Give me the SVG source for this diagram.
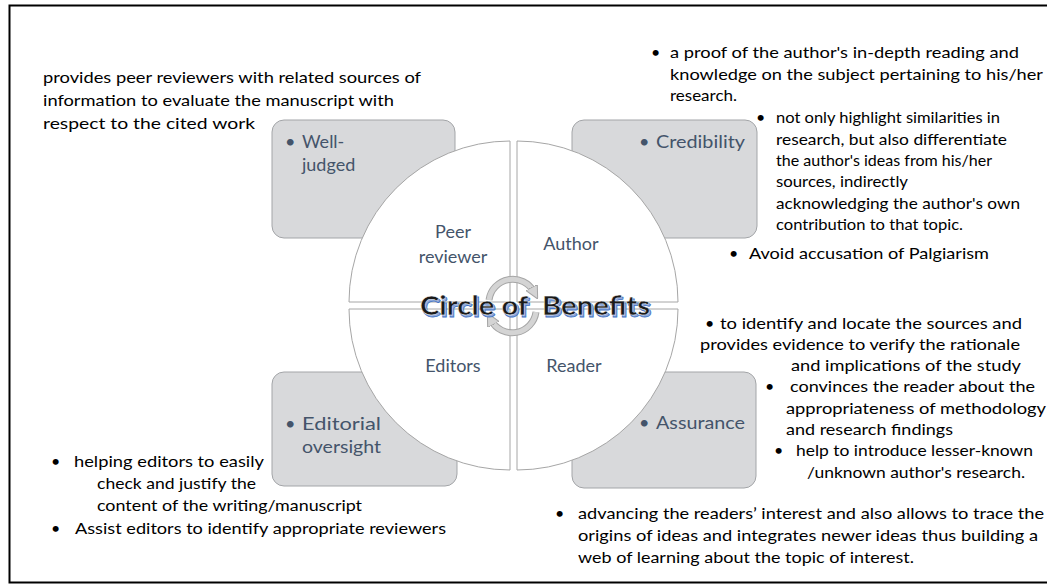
<svg xmlns="http://www.w3.org/2000/svg" width="1047" height="588" viewBox="0 0 1047 588">
<style>
.box{fill:#d8d9db;stroke:#a3a5a8;stroke-width:1}
.quad{fill:#ffffff;stroke:#a6a6a6;stroke-width:1}
.lbl{font-family:Lato,"Liberation Sans",sans-serif;font-size:18px;fill:#44546a}
.ann{font-family:Lato,"Liberation Sans",sans-serif;font-size:16px;fill:#000000}
.title{font-family:Lato,"Liberation Sans",sans-serif;font-size:27px;font-weight:bold}
</style>
<defs>
<marker id="ah" viewBox="0 0 10 10" refX="4" refY="5" markerWidth="2.6" markerHeight="2.6" orient="auto">
<path d="M0,0 L10,5 L0,10 Z" fill="#d4d4d4" stroke="#a6a6a6" stroke-width="0.8"/>
</marker>
</defs>
<rect x="0" y="0" width="1047" height="588" fill="#ffffff"/>
<rect x="9.5" y="5.5" width="1050" height="577" fill="none" stroke="#000" stroke-width="2"/>

<g id="box-welljudged">
<rect class="box" x="272" y="120" width="183" height="118" rx="12"/>
</g>
<g id="box-credibility">
<rect class="box" x="572" y="120" width="185" height="118" rx="12"/>
</g>
<g id="box-editorial">
<rect class="box" x="272" y="372" width="185" height="114" rx="12"/>
</g>
<g id="box-assurance">
<rect class="box" x="572" y="372" width="184" height="116" rx="12"/>
</g>

<g id="quad-peer">
<path class="quad" d="M510,302 L349,302 A161,161 0 0 1 510,141 Z"/>
<text class="lbl" x="453" y="238" text-anchor="middle">Peer</text>
<text class="lbl" x="453" y="263" text-anchor="middle">reviewer</text>
</g>
<g id="quad-author">
<path class="quad" d="M517,302 L517,141 A161,161 0 0 1 678,302 Z"/>
<text class="lbl" x="571" y="250" text-anchor="middle">Author</text>
</g>
<g id="quad-editors">
<path class="quad" d="M510,309 L510,470 A161,161 0 0 1 349,309 Z"/>
<text class="lbl" x="453" y="372" text-anchor="middle">Editors</text>
</g>
<g id="quad-reader">
<path class="quad" d="M517,309 L678,309 A161,161 0 0 1 517,470 Z"/>
<text class="lbl" x="574" y="372" text-anchor="middle">Reader</text>
</g>

<g id="box-labels">
<text class="lbl" x="285" y="148">•</text>
<text class="lbl" x="302" y="148">Well-</text>
<text class="lbl" x="302" y="171">judged</text>
<text class="lbl" x="639" y="148">•</text>
<text class="lbl" x="656" y="148" textLength="89" lengthAdjust="spacingAndGlyphs">Credibility</text>
<text class="lbl" x="285" y="430">•</text>
<text class="lbl" x="302" y="430" textLength="79" lengthAdjust="spacingAndGlyphs">Editorial</text>
<text class="lbl" x="302" y="453" textLength="79" lengthAdjust="spacingAndGlyphs">oversight</text>
<text class="lbl" x="639" y="429">•</text>
<text class="lbl" x="656" y="429" textLength="89" lengthAdjust="spacingAndGlyphs">Assurance</text>
</g>

<g id="cycle-icon" fill="none">
<path d="M489,300 A24,24 0 0 1 534,292" stroke="#a6a6a6" stroke-width="7"/>
<path d="M489,300 A24,24 0 0 1 534,292" stroke="#d4d4d4" stroke-width="5" marker-end="url(#ah)"/>
<path d="M536,312 A24,24 0 0 1 491,320" stroke="#a6a6a6" stroke-width="7"/>
<path d="M536,312 A24,24 0 0 1 491,320" stroke="#d4d4d4" stroke-width="5" marker-end="url(#ah)"/>
</g>

<g id="title">
<text class="title" x="420" y="315" textLength="230" lengthAdjust="spacingAndGlyphs" fill="#8eaadb" stroke="#4472c4" stroke-width="0.8" transform="translate(1.5,1.5)" xml:space="preserve">Circle of  Benefits</text>
<text class="title" x="420" y="315" textLength="230" lengthAdjust="spacingAndGlyphs" fill="#1a1a1a" stroke="#ffffff" stroke-width="0.4" xml:space="preserve">Circle of  Benefits</text>
</g>

<g id="note-peer">
<text class="ann" x="43" y="83" textLength="378" lengthAdjust="spacingAndGlyphs">provides peer reviewers with related sources of</text>
<text class="ann" x="43" y="106" textLength="351" lengthAdjust="spacingAndGlyphs">information to evaluate the manuscript with</text>
<text class="ann" x="43" y="129" textLength="212" lengthAdjust="spacingAndGlyphs">respect to the cited work</text>
</g>

<g id="note-author">
<text class="ann" x="651" y="58">•</text>
<text class="ann" x="670" y="58" textLength="349" lengthAdjust="spacingAndGlyphs">a proof of the author's in-depth reading and</text>
<text class="ann" x="670" y="80" textLength="373" lengthAdjust="spacingAndGlyphs">knowledge on the subject pertaining to his/her</text>
<text class="ann" x="670" y="101" textLength="67" lengthAdjust="spacingAndGlyphs">research.</text>
<text class="ann" x="756" y="123">•</text>
<text class="ann" x="776" y="123" textLength="224" lengthAdjust="spacingAndGlyphs">not only highlight similarities in</text>
<text class="ann" x="776" y="145" textLength="231" lengthAdjust="spacingAndGlyphs">research, but also differentiate</text>
<text class="ann" x="776" y="166" textLength="216" lengthAdjust="spacingAndGlyphs">the author's ideas from his/her</text>
<text class="ann" x="776" y="187" textLength="132" lengthAdjust="spacingAndGlyphs">sources, indirectly</text>
<text class="ann" x="776" y="209" textLength="244" lengthAdjust="spacingAndGlyphs">acknowledging the author's own</text>
<text class="ann" x="776" y="230" textLength="187" lengthAdjust="spacingAndGlyphs">contribution to that topic.</text>
<text class="ann" x="729" y="259">•</text>
<text class="ann" x="749" y="259" textLength="240" lengthAdjust="spacingAndGlyphs">Avoid accusation of Palgiarism</text>
</g>

<g id="note-reader">
<text class="ann" x="705" y="329">•</text>
<text class="ann" x="720" y="329" textLength="302" lengthAdjust="spacingAndGlyphs">to identify and locate the sources and</text>
<text class="ann" x="700" y="350" textLength="320" lengthAdjust="spacingAndGlyphs">provides evidence to verify the rationale</text>
<text class="ann" x="791" y="371" textLength="230" lengthAdjust="spacingAndGlyphs">and implications of the study</text>
<text class="ann" x="765" y="392">•</text>
<text class="ann" x="790" y="392" textLength="245" lengthAdjust="spacingAndGlyphs">convinces the reader about the</text>
<text class="ann" x="786" y="414" textLength="260" lengthAdjust="spacingAndGlyphs">appropriateness of methodology</text>
<text class="ann" x="786" y="435" textLength="167" lengthAdjust="spacingAndGlyphs">and research findings</text>
<text class="ann" x="774" y="456">•</text>
<text class="ann" x="796" y="456" textLength="237" lengthAdjust="spacingAndGlyphs">help to introduce lesser-known</text>
<text class="ann" x="807" y="478" textLength="218" lengthAdjust="spacingAndGlyphs">/unknown author's research.</text>
<text class="ann" x="555" y="519">•</text>
<text class="ann" x="578" y="519" textLength="466" lengthAdjust="spacingAndGlyphs">advancing the readers’ interest and also allows to trace the</text>
<text class="ann" x="578" y="541" textLength="460" lengthAdjust="spacingAndGlyphs">origins of ideas and integrates newer ideas thus building a</text>
<text class="ann" x="578" y="563" textLength="336" lengthAdjust="spacingAndGlyphs">web of learning about the topic of interest.</text>
</g>

<g id="note-editors">
<text class="ann" x="51" y="467">•</text>
<text class="ann" x="74" y="467" textLength="190" lengthAdjust="spacingAndGlyphs">helping editors to easily</text>
<text class="ann" x="97" y="489" textLength="159" lengthAdjust="spacingAndGlyphs">check and justify the</text>
<text class="ann" x="97" y="511" textLength="265" lengthAdjust="spacingAndGlyphs">content of the writing/manuscript</text>
<text class="ann" x="51" y="534">•</text>
<text class="ann" x="75" y="534" textLength="371" lengthAdjust="spacingAndGlyphs">Assist editors to identify appropriate reviewers</text>
</g>

<g id="connectors"/>
</svg>
